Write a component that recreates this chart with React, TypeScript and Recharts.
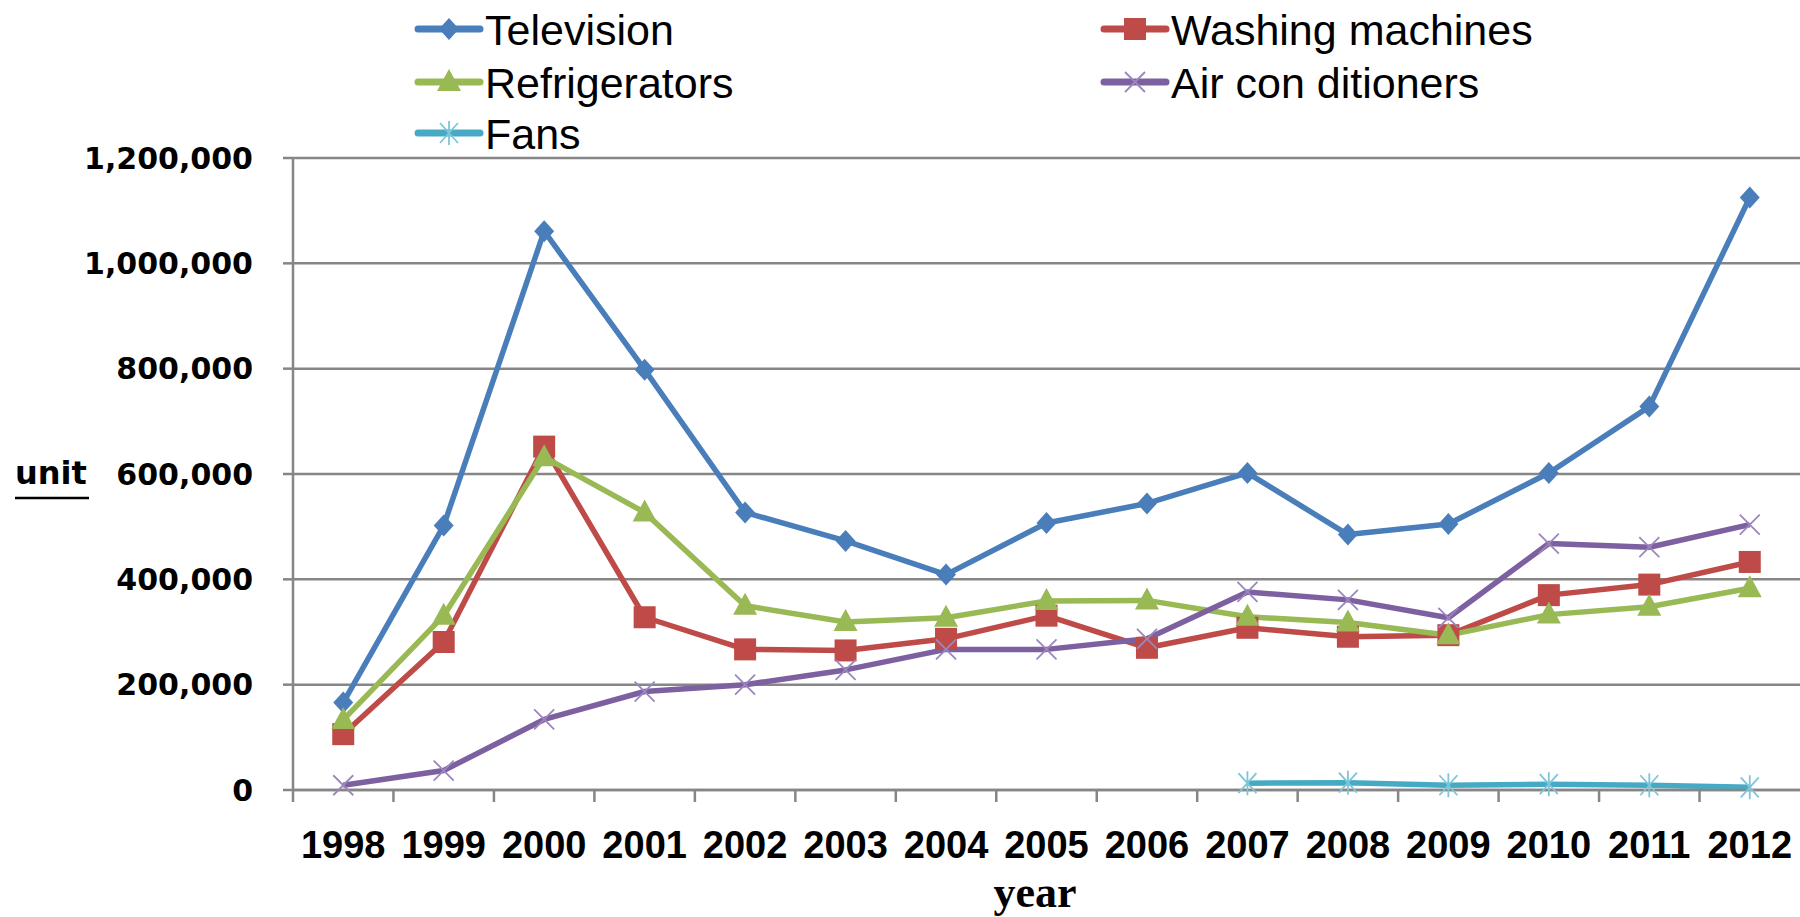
import React from "react";
import { CartesianGrid, Line, LineChart, XAxis, YAxis } from "recharts";

const years = [
  "1998", "1999", "2000", "2001", "2002", "2003", "2004", "2005",
  "2006", "2007", "2008", "2009", "2010", "2011", "2012",
];

const television = [
  166000, 502000, 1061000, 798000, 527000, 473000, 409000, 507000,
  544000, 602000, 485000, 505000, 602000, 728000, 1125000,
];
const washingMachines = [
  106000, 281000, 652000, 328000, 267000, 265000, 287000, 331000,
  270000, 308000, 291000, 294000, 370000, 390000, 433000,
];
const refrigerators = [
  133000, 331000, 632000, 527000, 350000, 319000, 327000, 359000,
  360000, 329000, 318000, 294000, 333000, 348000, 383000,
];
const airConditioners = [
  9000, 37000, 134000, 187000, 200000, 228000, 267000, 267000,
  287000, 376000, 361000, 327000, 468000, 461000, 504000,
];
const fans = [
  null, null, null, null, null, null, null, null,
  null, 13000, 14000, 9000, 11000, 9000, 5000,
];

const yTicks = [0, 200000, 400000, 600000, 800000, 1000000, 1200000];

// layout
const W = 1800;
const H = 917;
const PLOT_LEFT = 293;
const PLOT_TOP = 158;
const PLOT_BOTTOM = 790;
const STEP = (W - PLOT_LEFT) / years.length;
const X_TICK_SIZE = 12;
const X_TICK_MARGIN = 32;
const GRID = "#868686";

const data = years.map((year, i) => ({
  year,
  television: television[i],
  washing: washingMachines[i],
  refrigerators: refrigerators[i],
  air: airConditioners[i],
  fans: fans[i],
}));

type MarkerType = "diamond" | "square" | "triangle" | "x" | "star";

const series: { key: string; name: string; color: string; accent: string; marker: MarkerType }[] = [
  { key: "television", name: "Television", color: "#4A7EBB", accent: "#4A7EBB", marker: "diamond" },
  { key: "washing", name: "Washing machines", color: "#BE4B48", accent: "#BE4B48", marker: "square" },
  { key: "refrigerators", name: "Refrigerators", color: "#98B954", accent: "#98B954", marker: "triangle" },
  { key: "air", name: "Air con ditioners", color: "#7D60A0", accent: "#9C86BE", marker: "x" },
  { key: "fans", name: "Fans", color: "#46AAC5", accent: "#7CC6DA", marker: "star" },
];

function Marker({ type, cx, cy, color }: { type: MarkerType; cx: number; cy: number; color: string }) {
  switch (type) {
    case "diamond":
      return <path d={`M${cx},${cy - 11}L${cx + 10},${cy}L${cx},${cy + 11}L${cx - 10},${cy}Z`} fill={color} />;
    case "square":
      return <rect x={cx - 11} y={cy - 11} width={22} height={22} fill={color} />;
    case "triangle":
      return <path d={`M${cx},${cy - 13}L${cx + 12},${cy + 9}L${cx - 12},${cy + 9}Z`} fill={color} />;
    case "x":
      return (
        <path
          d={`M${cx - 10},${cy - 10}L${cx + 10},${cy + 10}M${cx + 10},${cy - 10}L${cx - 10},${cy + 10}`}
          stroke={color}
          strokeWidth={1.8}
          fill="none"
        />
      );
    default:
      return (
        <path
          d={`M${cx - 9},${cy - 10}L${cx + 9},${cy + 10}M${cx + 9},${cy - 10}L${cx - 9},${cy + 10}M${cx},${cy - 12}L${cx},${cy + 12}`}
          stroke={color}
          strokeWidth={1.8}
          fill="none"
        />
      );
  }
}

function makeDot(type: MarkerType, color: string) {
  return (props: any) => {
    const { cx, cy, index, value } = props;
    if (cx == null || cy == null || value == null || Number.isNaN(cy)) {
      return <g key={`dot-${index}`} />;
    }
    return (
      <g key={`dot-${index}`}>
        <Marker type={type} cx={cx} cy={cy} color={color} />
      </g>
    );
  };
}

function YearTick(props: any) {
  const { x, y, payload } = props;
  const axisY = y - X_TICK_SIZE - X_TICK_MARGIN;
  return (
    <g>
      <line
        x1={x - STEP / 2}
        x2={x - STEP / 2}
        y1={axisY}
        y2={axisY + X_TICK_SIZE}
        stroke={GRID}
        strokeWidth={2.5}
      />
      <text
        x={x}
        y={y + 24}
        textAnchor="middle"
        fill="#000"
        fontFamily="'Liberation Sans', Arial, sans-serif"
        fontWeight="bold"
        fontSize={38}
      >
        {payload.value}
      </text>
    </g>
  );
}

function UnitLabel() {
  return (
    <g>
      <text
        x={15}
        y={484}
        fill="#000"
        fontFamily="'DejaVu Sans', sans-serif"
        fontWeight="bold"
        fontSize={32}
      >
        unit
      </text>
      <line x1={15} x2={89} y1={498} y2={498} stroke="#000" strokeWidth={2.5} />
    </g>
  );
}

function YearLabel() {
  return (
    <text
      x={1035}
      y={907}
      textAnchor="middle"
      fill="#000"
      fontFamily="'Liberation Serif', 'Times New Roman', serif"
      fontWeight="bold"
      fontSize={44}
    >
      year
    </text>
  );
}

const legendCols = [418, 1104];
const legendRows = [29, 82, 133];

function LegendOverlay() {
  return (
    <svg width={W} height={160} style={{ position: "absolute", left: 0, top: 0 }}>
      {series.map((s, i) => {
        const x = legendCols[i % 2];
        const y = legendRows[Math.floor(i / 2)];
        return (
          <g key={s.key}>
            <line x1={x} x2={x + 62} y1={y} y2={y} stroke={s.color} strokeWidth={7} strokeLinecap="round" />
            <Marker type={s.marker} cx={x + 31} cy={y} color={s.accent} />
            <text
              x={x + 67}
              y={y + 15.5}
              fill="#000"
              fontFamily="'Liberation Sans', Arial, sans-serif"
              fontSize={43}
            >
              {s.name}
            </text>
          </g>
        );
      })}
    </svg>
  );
}

export default function App() {
  return (
    <div style={{ position: "absolute", left: 0, top: 0, width: W, height: H, background: "#fff" }}>
      <LineChart
        width={W}
        height={H}
        data={data}
        margin={{ top: PLOT_TOP, right: 0, bottom: 0, left: 0 }}
      >
        <CartesianGrid vertical={false} stroke={GRID} strokeWidth={2.5} />
        <XAxis
          dataKey="year"
          padding={{ left: STEP / 2, right: STEP / 2 }}
          height={H - PLOT_BOTTOM}
          interval={0}
          tickLine={false}
          tickSize={X_TICK_SIZE}
          tickMargin={X_TICK_MARGIN}
          axisLine={{ stroke: GRID, strokeWidth: 2.5 }}
          tick={<YearTick />}
          label={{ content: <YearLabel /> }}
        />
        <YAxis
          domain={[0, 1200000]}
          ticks={yTicks}
          interval={0}
          width={PLOT_LEFT}
          tickSize={10}
          tickMargin={30}
          axisLine={{ stroke: GRID, strokeWidth: 2.5 }}
          tickLine={{ stroke: GRID, strokeWidth: 2.5 }}
          tick={{ fill: "#000", fontFamily: "'DejaVu Sans', sans-serif", fontWeight: "bold", fontSize: 30 }}
          tickFormatter={(v: number) => v.toLocaleString("en-US")}
          label={{ content: <UnitLabel /> }}
        />
        {series.map((s) => (
          <Line
            key={s.key}
            dataKey={s.key}
            name={s.name}
            type="linear"
            stroke={s.color}
            strokeWidth={5.5}
            strokeLinejoin="round"
            dot={makeDot(s.marker, s.accent)}
            activeDot={false}
            isAnimationActive={false}
          />
        ))}
      </LineChart>
      <LegendOverlay />
    </div>
  );
}
